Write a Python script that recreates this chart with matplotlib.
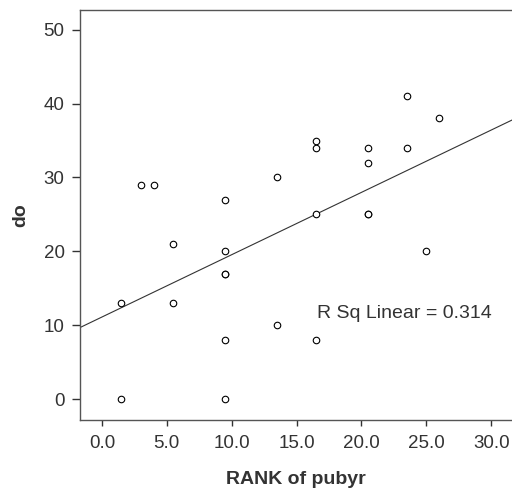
import matplotlib
matplotlib.use('Agg')
import matplotlib.pyplot as plt
import numpy as np

# rank of pubyr (tied ranks averaged) and "do" values
rank_pubyr = [1.5, 1.5, 3.0, 4.0, 5.5, 5.5,
              9.5, 9.5, 9.5, 9.5, 9.5, 9.5,
              13.5, 13.5, 16.5, 16.5, 16.5, 16.5,
              20.5, 20.5, 20.5, 20.5, 23.5, 23.5, 25.0, 26.0]
do_vals = [13, 0, 29, 29, 21, 13,
           27, 20, 17, 17, 8, 0,
           30, 10, 35, 34, 25, 8,
           34, 32, 25, 25, 41, 34, 20, 38]
xticks = [0, 5, 10, 15, 20, 25, 30]
yticks = [0, 10, 20, 30, 40, 50]
r2_text = 'R Sq Linear = 0.314'

plt.rcParams['font.family'] = ['Liberation Sans', 'DejaVu Sans']

fig = plt.figure(figsize=(5.12, 4.88), dpi=100)
ax = fig.add_axes([0.156, 0.139, 0.844, 0.841])

x = np.array(rank_pubyr)
y = np.array(do_vals)
ax.scatter(x, y, s=22, facecolors='white', edgecolors='black', linewidths=0.8, zorder=3)

# fit line across the whole axis
slope, icpt = np.polyfit(x, y, 1)
xl = np.array([-1.7, 31.6])
ax.plot(xl, icpt + slope * xl, color='#333333', lw=0.8, zorder=2)

ax.set_xlim(-1.7, 31.6)
ax.set_ylim(-2.85, 52.7)
ax.set_xticks(xticks)
ax.set_xticklabels([f'{t:.1f}' for t in xticks], fontsize=13.5, color='#333333')
ax.set_yticks(yticks)
ax.set_yticklabels([str(t) for t in yticks], fontsize=13.5, color='#333333')
ax.tick_params(axis='x', direction='out', length=4, width=1, color='#333333', pad=7)
ax.tick_params(axis='y', direction='out', length=6, width=1, color='#333333', pad=5)

for s in ['left', 'bottom', 'top']:
    ax.spines[s].set_color('#555555')
    ax.spines[s].set_linewidth(1)
ax.spines['right'].set_visible(False)

ax.set_xlabel('RANK of pubyr', fontsize=14, fontweight='bold', color='#333333', labelpad=13)
ax.set_ylabel('do', fontsize=14, fontweight='bold', color='#333333', labelpad=10)

ax.text(16.6, 11.6, r2_text, fontsize=14, color='#333333', va='center', ha='left')

fig.savefig('out.png', dpi=100)
